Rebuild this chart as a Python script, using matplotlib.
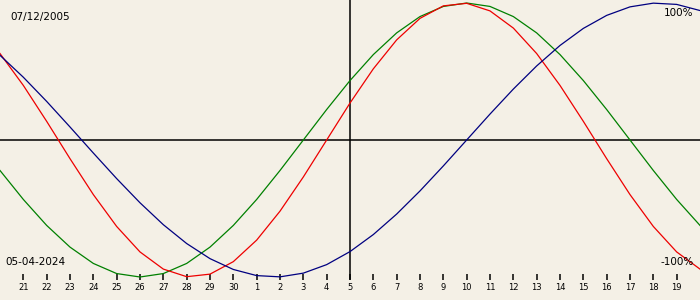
import matplotlib
matplotlib.use("Agg")
import matplotlib.pyplot as plt

# biorhythm chart, one value per day (day 0 = 20 Apr, day 30 = 20 May)
days = list(range(31))
physical = [0.6311, 0.3984, 0.1362, -0.1362, -0.3984, -0.6311, -0.8170, -0.9423,
            -0.9977, -0.9791, -0.8879, -0.7308, -0.5196, -0.2698, 0.0, 0.2698,
            0.5196, 0.7308, 0.8879, 0.9791, 0.9977, 0.9423, 0.8170, 0.6311,
            0.3984, 0.1362, -0.1362, -0.3984, -0.6311, -0.8170, -0.9423]
emotional = [-0.2225, -0.4339, -0.6235, -0.7818, -0.9010, -0.9749, -1.0, -0.9749,
             -0.9010, -0.7818, -0.6235, -0.4339, -0.2225, 0.0, 0.2225, 0.4339,
             0.6235, 0.7818, 0.9010, 0.9749, 1.0, 0.9749, 0.9010, 0.7818,
             0.6235, 0.4339, 0.2225, 0.0, -0.2225, -0.4339, -0.6235]
intellectual = [0.6182, 0.4582, 0.2817, 0.0951, -0.0951, -0.2817, -0.4582, -0.6182,
                -0.7557, -0.8660, -0.9450, -0.9898, -0.9989, -0.9718, -0.9096, -0.8146,
                -0.6901, -0.5406, -0.3717, -0.1893, 0.0, 0.1893, 0.3717, 0.5406,
                0.6901, 0.8146, 0.9096, 0.9718, 0.9989, 0.9898, 0.9450]

tick_days = list(range(1, 30))
tick_labels = ["21", "22", "23", "24", "25", "26", "27", "28", "29", "30",
               "1", "2", "3", "4", "5", "6", "7", "8", "9", "10",
               "11", "12", "13", "14", "15", "16", "17", "18", "19"]
today = 15
birth_label = "07/12/2005"
date_label = "05-04-2024"

bg = "#f4f0e6"
px = 0.72  # one pixel in points

fig = plt.figure(figsize=(7, 3), dpi=100, facecolor=bg)
ax = fig.add_axes([0, 26 / 300, 1, 274 / 300])
ax.set_facecolor(bg)
ax.set_xlim(0, 30)
ax.set_ylim(-134 / 137, 140 / 137)
for s in ax.spines.values():
    s.set_visible(False)

ax.axhline(0, color="black", lw=1.1)
ax.plot([today, today], [140 / 137, -139 / 137], color="black", lw=1.1, clip_on=False)

ax.plot(days, emotional, color="#008000", lw=0.9, clip_on=False)
ax.plot(days, physical, color="#ee0000", lw=0.9, clip_on=False)
ax.plot(days, intellectual, color="#000080", lw=0.9, clip_on=False)

ax.set_yticks([])
ax.set_xticks(tick_days)
ax.set_xticklabels(tick_labels)
ax.tick_params(axis="x", direction="out", length=6 * px, width=1.1, color="black",
               pad=2, labelsize=6)

fig.text(10 / 700, 1 - 17 / 300, birth_label, fontsize=7.5, va="center", ha="left")
fig.text(5 / 700, 1 - 262 / 300, date_label, fontsize=7.5, va="center", ha="left")
fig.text(693 / 700, 1 - 13 / 300, "100%", fontsize=7.5, va="center", ha="right")
fig.text(694 / 700, 1 - 262 / 300, "-100%", fontsize=7.5, va="center", ha="right")

fig.savefig("out.png", dpi=100, facecolor=bg)
